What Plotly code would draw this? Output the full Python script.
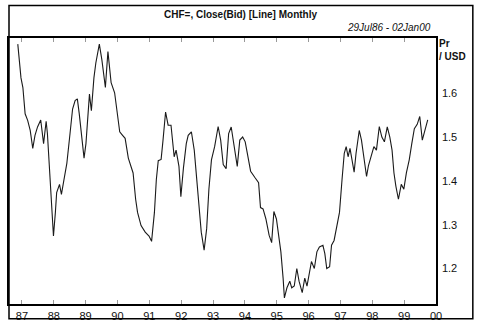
import plotly.graph_objects as go

# USD/CHF monthly close (bid), time in decimal years
years = [
    1986.87, 1986.97, 1987.03, 1987.10, 1987.18, 1987.26, 1987.34, 1987.41, 1987.49, 1987.59,
    1987.68, 1987.76, 1987.80, 1987.88, 1987.93, 1987.99, 1988.05, 1988.09, 1988.18, 1988.24,
    1988.32, 1988.41, 1988.51, 1988.59, 1988.67, 1988.74, 1988.80, 1988.87, 1988.95, 1989.01,
    1989.12, 1989.18, 1989.26, 1989.32, 1989.37, 1989.43, 1989.51, 1989.62, 1989.70, 1989.76,
    1989.80, 1989.91, 1989.99, 1990.07, 1990.16, 1990.24, 1990.34, 1990.49, 1990.57, 1990.63,
    1990.74, 1990.87, 1990.99, 1991.07, 1991.16, 1991.22, 1991.28, 1991.37, 1991.43, 1991.51,
    1991.59, 1991.68, 1991.78, 1991.84, 1991.93, 1991.99, 1992.07, 1992.16, 1992.22, 1992.32,
    1992.41, 1992.49, 1992.57, 1992.63, 1992.72, 1992.80, 1992.87, 1992.95, 1993.05, 1993.16,
    1993.24, 1993.32, 1993.41, 1993.49, 1993.57, 1993.68, 1993.76, 1993.84, 1993.93, 1994.01,
    1994.09, 1994.18, 1994.32, 1994.43, 1994.49, 1994.57, 1994.66, 1994.76, 1994.84, 1994.91,
    1994.99, 1995.07, 1995.13, 1995.20, 1995.24, 1995.32, 1995.41, 1995.47, 1995.55, 1995.63,
    1995.70, 1995.80, 1995.88, 1995.95, 1996.03, 1996.09, 1996.18, 1996.26, 1996.34, 1996.45,
    1996.51, 1996.57, 1996.66, 1996.72, 1996.80, 1996.88, 1996.97, 1997.05, 1997.12, 1997.18,
    1997.24, 1997.30, 1997.37, 1997.43, 1997.49, 1997.53, 1997.59, 1997.66, 1997.74, 1997.82,
    1997.88, 1997.97, 1998.05, 1998.13, 1998.22, 1998.30, 1998.38, 1998.47, 1998.55, 1998.62,
    1998.68, 1998.74, 1998.82, 1998.91, 1998.99, 1999.07, 1999.16, 1999.24, 1999.32, 1999.41,
    1999.49, 1999.57, 1999.66, 1999.74,
]
rate = [
    1.712, 1.635, 1.613, 1.553, 1.538, 1.515, 1.474, 1.504, 1.523, 1.539,
    1.485, 1.536, 1.508, 1.418, 1.366, 1.274, 1.328, 1.373, 1.392, 1.369,
    1.403, 1.440, 1.508, 1.564, 1.583, 1.587, 1.553, 1.508, 1.452, 1.485,
    1.598, 1.560, 1.635, 1.669, 1.688, 1.712, 1.676, 1.613, 1.695, 1.650,
    1.624, 1.601, 1.553, 1.512, 1.504, 1.497, 1.452, 1.418, 1.358, 1.328,
    1.298, 1.283, 1.274, 1.262, 1.328, 1.403, 1.446, 1.449, 1.493, 1.557,
    1.527, 1.527, 1.455, 1.470, 1.433, 1.364, 1.429, 1.485, 1.504, 1.512,
    1.470, 1.403, 1.336, 1.283, 1.242, 1.291, 1.381, 1.448, 1.478, 1.524,
    1.493, 1.437, 1.428, 1.508, 1.523, 1.470, 1.433, 1.493, 1.500, 1.489,
    1.455, 1.422, 1.407, 1.396, 1.339, 1.336, 1.313, 1.276, 1.259, 1.330,
    1.313, 1.276, 1.238, 1.178, 1.133, 1.156, 1.171, 1.156, 1.160, 1.200,
    1.171, 1.145, 1.178, 1.160, 1.193, 1.216, 1.200, 1.238, 1.249, 1.253,
    1.234, 1.200, 1.204, 1.253, 1.264, 1.298, 1.328, 1.403, 1.463, 1.478,
    1.455, 1.474, 1.448, 1.420, 1.463, 1.485, 1.515, 1.493, 1.455, 1.410,
    1.435, 1.458, 1.478, 1.470, 1.524, 1.500, 1.489, 1.523, 1.500, 1.470,
    1.418, 1.388, 1.358, 1.392, 1.381, 1.418, 1.448, 1.485, 1.519, 1.529,
    1.547, 1.493, 1.515, 1.539,
]

tick_years = list(range(1987, 2001))
tick_text = ["87", "88", "89", "90", "91", "92", "93", "94", "95", "96", "97", "98", "99", "00"]
price_ticks = [1.2, 1.3, 1.4, 1.5, 1.6]

title_text = "CHF=, Close(Bid) [Line] Monthly"
range_text = "29Jul86 - 02Jan00"

NARROW = "Liberation Sans Narrow, Arial Narrow, Liberation Sans, Arial"

fig = go.Figure(
    go.Scatter(
        x=years, y=rate, mode="lines",
        line=dict(color="#1a1a1a", width=1.1),
        hoverinfo="skip", showlegend=False,
    )
)

W, H = 480, 329
L, R, T, B = 7, 436, 38, 308
pw, ph = R - L, B - T


def px_x(px):
    return (px - L) / pw


def px_y(py):
    return (B - py) / ph


fig.update_layout(
    width=W, height=H,
    margin=dict(l=L, r=W - R, t=T, b=H - B, pad=0),
    paper_bgcolor="white", plot_bgcolor="white",
    xaxis=dict(
        range=[1986.594, 2000.0], tickmode="array", tickvals=tick_years, ticktext=tick_text,
        showgrid=False, zeroline=False,
        showline=True, linecolor="black", linewidth=1.5, mirror="allticks",
        ticks="inside", ticklen=4, tickcolor="#999999", tickwidth=1,
        tickfont=dict(family=NARROW, size=11, color="#111"),
        ticklabelstandoff=1,
    ),
    yaxis=dict(
        range=[1.119, 1.726], side="right", tickmode="array", tickvals=price_ticks,
        ticktext=[f"{v:.1f}" for v in price_ticks],
        showgrid=False, zeroline=False,
        showline=True, linecolor="black", linewidth=1.5, mirror=True,
        ticks="", tickfont=dict(family=NARROW, size=11, color="#111"),
        ticklabelstandoff=2,
    ),
    shapes=[
        # outer frame
        dict(type="rect", xref="paper", yref="paper",
             x0=px_x(7), x1=px_x(473), y0=px_y(323), y1=px_y(5),
             line=dict(color="black", width=1.5), fillcolor="rgba(0,0,0,0)", layer="above"),
    ],
    annotations=[
        dict(text=f"<b>{title_text}</b>", xref="paper", yref="paper",
             x=px_x(240), y=px_y(14), xanchor="center", yanchor="middle", showarrow=False,
             font=dict(family=NARROW, size=10, color="#111")),
        dict(text=f"<i>{range_text}</i>", xref="paper", yref="paper",
             x=px_x(433), y=px_y(27.5), xanchor="right", yanchor="middle", showarrow=False,
             font=dict(family=NARROW, size=10, color="#111")),
        dict(text="<b>Pr</b>", xref="paper", yref="paper",
             x=px_x(437.5), y=px_y(44), xanchor="left", yanchor="middle", showarrow=False,
             font=dict(family=NARROW, size=10, color="#111")),
        dict(text="<b>/ USD</b>", xref="paper", yref="paper",
             x=px_x(437.5), y=px_y(57), xanchor="left", yanchor="middle", showarrow=False,
             font=dict(family=NARROW, size=10, color="#111")),
    ],
)

fig.write_html("out.html")
